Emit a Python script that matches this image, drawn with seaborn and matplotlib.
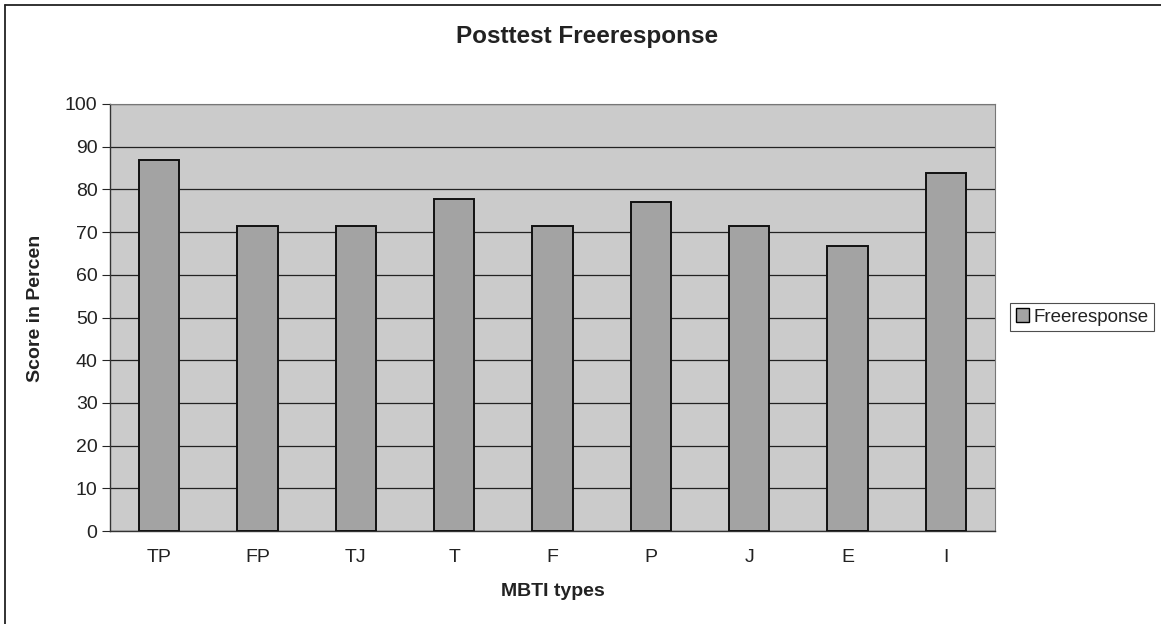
import matplotlib
matplotlib.use("Agg")
import matplotlib.pyplot as plt
import seaborn as sns
import pandas as pd
from matplotlib.patches import Patch
from matplotlib.lines import Line2D

categories = ["TP", "FP", "TJ", "T", "F", "P", "J", "E", "I"]
values = [87.0, 71.4, 71.4, 77.8, 71.4, 77.1, 71.4, 66.7, 83.8]
yticks = [0, 10, 20, 30, 40, 50, 60, 70, 80, 90, 100]

df = pd.DataFrame({"MBTI types": categories, "Freeresponse": values})

sns.set_theme(style="white")
plt.rcParams['font.family'] = ['Liberation Sans', 'DejaVu Sans']

W, H = 1161, 624
fig = plt.figure(figsize=(W / 100, H / 100), dpi=100)
ax = fig.add_axes([110 / W, 1 - 531 / H, (995 - 110) / W, (531 - 104) / H])
ax.set_facecolor("#cbcbcb")

sns.barplot(data=df, x="MBTI types", y="Freeresponse", ax=ax, color="#a3a3a3",
            width=0.41, edgecolor="#111111", linewidth=1.4, saturation=1, zorder=3)

ax.set_ylim(0, 100)
ax.set_yticks(yticks)
ax.set_xlim(-0.5, len(categories) - 0.5)
ax.grid(axis="y", color="#222222", linewidth=0.9, zorder=0)
ax.set_axisbelow(True)
for s in ["top", "right"]:
    ax.spines[s].set_color("#777777")
    ax.spines[s].set_linewidth(0.8)
for s in ["left", "bottom"]:
    ax.spines[s].set_color("#333333")
    ax.spines[s].set_linewidth(1.0)
ax.tick_params(axis="y", left=True, length=6, width=0.8, labelsize=14, pad=3,
               labelcolor="#222222")
ax.tick_params(axis="x", bottom=False, labelsize=14, pad=7, labelcolor="#222222")
ax.set_xlabel("MBTI types", fontsize=14, fontweight="bold", labelpad=12, color="#222222")
ax.set_ylabel("Score in Percen", fontsize=14, fontweight="bold", color="#222222",
              va="center")
# label centre: x≈35 px, y≈308 px in figure pixels
ax.yaxis.set_label_coords((35 - 110) / (995 - 110), (531 - 308) / (531 - 104))
fig.text(587 / W, 1 - 36 / H, "Posttest Freeresponse", ha="center", va="center",
         fontsize=17.5, fontweight="bold", color="#222222")

handle = Patch(facecolor="#a3a3a3", edgecolor="black", label="Freeresponse")
leg = fig.legend(handles=[handle], loc="center left",
                 bbox_to_anchor=(1010 / W, 1 - 317 / H), fontsize=13.5,
                 frameon=True, fancybox=False, edgecolor="#222222",
                 handlelength=0.7, handleheight=0.7, handletextpad=0.25,
                 borderpad=0.3, borderaxespad=0)
leg.get_frame().set_linewidth(0.8)
for t in leg.get_texts():
    t.set_color("#222222")

# chart-area border (only left and top edges visible in the scan)
fig.add_artist(Line2D([5 / W, 5 / W], [0, 1 - 5 / H], transform=fig.transFigure,
                      color="#222222", linewidth=1.3))
fig.add_artist(Line2D([5 / W, 1], [1 - 5 / H, 1 - 5 / H], transform=fig.transFigure,
                      color="#222222", linewidth=1.3))

fig.savefig("out.png", dpi=100, facecolor="white")
